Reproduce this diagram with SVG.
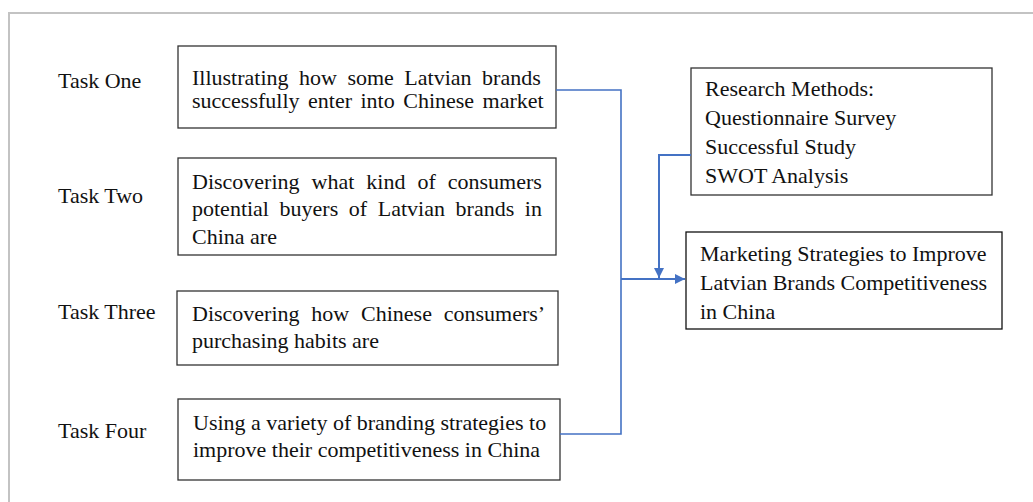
<svg xmlns="http://www.w3.org/2000/svg" width="1033" height="502" viewBox="0 0 1033 502">
<style>
  .t { font-family: "Liberation Serif", "Times New Roman", serif; font-size: 22px; fill: #111; }
  .box { fill: #fff; stroke: #333; stroke-width: 1.3; }
  .frame { stroke: #c3c3c3; stroke-width: 2; fill: none; }
  .conn { fill: none; stroke: #4472c4; stroke-width: 1.6; }
</style>
<defs>
  <marker id="arr" viewBox="0 0 10 10" refX="10" refY="5" markerWidth="10" markerHeight="10" markerUnits="userSpaceOnUse" orient="auto">
    <path d="M0,0 L10,5 L0,10 Z" fill="#4472c4"/>
  </marker>
</defs>
<rect width="1033" height="502" fill="#fff"/>
<path class="frame" d="M9,502 L9,13 L1033,13"/>

<g id="labels">
  <text class="t" x="58" y="88">Task One</text>
  <text class="t" x="58" y="203">Task Two</text>
  <text class="t" x="58" y="319">Task Three</text>
  <text class="t" x="58" y="438">Task Four</text>
</g>

<g id="task1">
  <rect class="box" x="178" y="46" width="378" height="82"/>
  <text class="t" x="192" y="85" word-spacing="5">Illustrating how some Latvian brands</text>
  <text class="t" x="192" y="108" word-spacing="3">successfully enter into Chinese market</text>
</g>

<g id="task2">
  <rect class="box" x="178" y="158" width="378" height="97"/>
  <text class="t" x="192" y="189" word-spacing="6.5">Discovering what kind of consumers</text>
  <text class="t" x="192" y="216" word-spacing="5.1">potential buyers of Latvian brands in</text>
  <text class="t" x="192" y="244">China are</text>
</g>

<g id="task3">
  <rect class="box" x="177" y="291" width="381" height="74"/>
  <text class="t" x="192" y="321" word-spacing="6.3">Discovering how Chinese consumers’</text>
  <text class="t" x="192" y="348">purchasing habits are</text>
</g>

<g id="task4">
  <rect class="box" x="178" y="399" width="382" height="81"/>
  <text class="t" x="193" y="430">Using a variety of branding strategies to</text>
  <text class="t" x="193" y="457">improve their competitiveness in China</text>
</g>

<g id="research">
  <rect class="box" x="691" y="68" width="301" height="127"/>
  <text class="t" x="705" y="96">Research Methods:</text>
  <text class="t" x="705" y="125">Questionnaire Survey</text>
  <text class="t" x="705" y="154">Successful Study</text>
  <text class="t" x="705" y="183">SWOT Analysis</text>
</g>

<g id="result">
  <rect class="box" x="686" y="232" width="316" height="97" style="stroke:#111"/>
  <text class="t" x="700" y="261">Marketing Strategies to Improve</text>
  <text class="t" x="700" y="290">Latvian Brands Competitiveness</text>
  <text class="t" x="700" y="319">in China</text>
</g>

<g id="connectors">
  <path class="conn" d="M556,90 L621,90 L621,434 L560,434"/>
  <path class="conn" d="M621,279 L685,279" marker-end="url(#arr)" style="stroke-width:2"/>
  <path class="conn" d="M691,155 L659,155 L659,278" marker-end="url(#arr)" style="stroke-width:2"/>
</g>
</svg>
